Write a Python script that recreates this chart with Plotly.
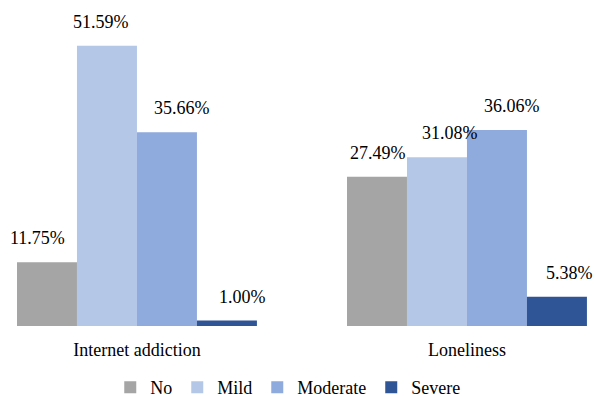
import plotly.graph_objects as go

categories = ["Internet addiction", "Loneliness"]
series_names = ["No", "Mild", "Moderate", "Severe"]
no_vals = [11.75, 27.49]
mild_vals = [51.59, 31.08]
moderate_vals = [35.66, 36.06]
severe_vals = [1.00, 5.38]
colors = ["#A5A5A5", "#B4C7E7", "#8FAADC", "#2F5597"]

# horizontal nudges (px) of the value labels, per series and category
label_dx = [[-9, 1], [-6, 13], [15, 15], [16, 13]]

series_values = [no_vals, mild_vals, moderate_vals, severe_vals]
font_family = "Liberation Serif"
font_size = 18

group_width = 0.727
bar_w = group_width / len(series_names)
x_pos = list(range(len(categories)))

fig = go.Figure()
for k, (name, vals, color) in enumerate(zip(series_names, series_values, colors)):
    offset = -group_width / 2 + k * bar_w
    fig.add_trace(go.Bar(
        name=name,
        x=x_pos,
        y=vals,
        width=bar_w,
        offset=offset,
        marker=dict(color=color, line=dict(width=0)),
    ))
    for i, v in enumerate(vals):
        fig.add_annotation(
            x=x_pos[i] + offset + bar_w / 2,
            y=v,
            xref="x",
            yref="y",
            text=f"{v:.2f}%",
            showarrow=False,
            xanchor="center",
            yanchor="bottom",
            xshift=label_dx[k][i],
            yshift=12,
            font=dict(family=font_family, size=font_size, color="#000000"),
        )

fig.update_layout(
    barmode="overlay",
    width=597,
    height=397,
    margin=dict(l=0, r=0, t=0, b=71),
    plot_bgcolor="white",
    paper_bgcolor="white",
    font=dict(family=font_family, size=font_size, color="#000000"),
    showlegend=True,
    legend=dict(
        orientation="h",
        x=0.482,
        xanchor="center",
        xref="container",
        y=0.024,
        yanchor="middle",
        yref="container",
        font=dict(family=font_family, size=font_size, color="#000000"),
        itemwidth=30,
        traceorder="normal",
    ),
    xaxis=dict(
        range=[-0.415, 1.394],
        tickvals=x_pos,
        ticktext=categories,
        showline=False,
        showgrid=False,
        zeroline=False,
        ticks="",
        ticklabelstandoff=11,
        tickfont=dict(family=font_family, size=font_size, color="#000000"),
    ),
    yaxis=dict(
        range=[0, 60],
        visible=False,
        showgrid=False,
        zeroline=False,
    ),
)

fig.write_html("out.html")
